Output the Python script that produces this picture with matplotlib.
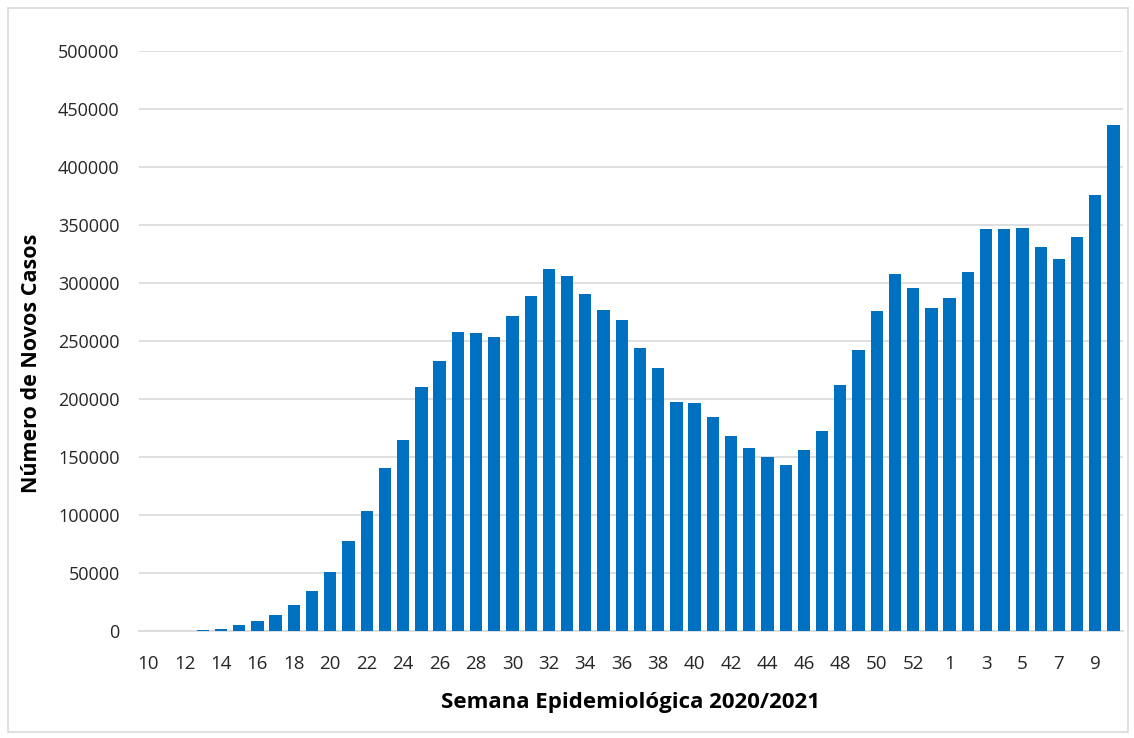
import matplotlib.pyplot as plt
from matplotlib.patches import Rectangle

# ── Data (weekly new cases) ─────────────────────────────────────────────────
weeks = list(range(10, 54)) + list(range(1, 11))
cases = [
    20, 150, 400, 1000, 2000, 4900, 9000, 13400, 22100, 34600,      # 10-19
    51200, 77600, 103400, 140500, 164700, 210300, 232500, 257700, 257200, 253200,  # 20-29
    271800, 289000, 312300, 306300, 290200, 276400, 268400, 244300, 227000, 197800,  # 30-39
    196900, 184600, 168500, 157600, 150400, 142700, 156000, 172300, 212100, 242400,  # 40-49
    275800, 307600, 295900, 278700,                                   # 50-53
    287300, 309200, 346200, 346500, 347500, 330900, 320400, 339800, 376100, 436300,  # 1-10 (2021)
]
yticks = list(range(0, 500001, 50000))

BAR_COLOR = "#0070C0"
GRID_COLOR = "#D9D9D9"

plt.rcParams["font.family"] = ["Open Sans", "DejaVu Sans"]

fig = plt.figure(figsize=(11.34, 7.38), dpi=100)
ax = fig.add_axes([0.1226, 0.145, 0.8674, 0.786])

x = list(range(len(weeks)))
ax.bar(x, cases, width=0.675, color=BAR_COLOR, zorder=3)

ax.set_xlim(-0.5, len(weeks) - 0.5)
ax.set_ylim(0, 500000)
ax.set_yticks(yticks)
ax.set_yticklabels([str(v) for v in yticks], fontsize=13, color="#262626")
ax.set_xticks(x[::2])
ax.set_xticklabels([str(w) for w in weeks[::2]], fontsize=13.5, color="#262626")
ax.tick_params(axis="both", length=0)
ax.tick_params(axis="y", pad=14)
ax.tick_params(axis="x", pad=17)

ax.grid(axis="y", color=GRID_COLOR, linewidth=1.2, zorder=0)
for s in ["top", "right", "left"]:
    ax.spines[s].set_visible(False)
ax.spines["bottom"].set_color(GRID_COLOR)
ax.spines["bottom"].set_linewidth(1.2)

ax.set_ylabel("Número de Novos Casos", fontsize=15.5, fontweight="bold")
ax.yaxis.set_label_coords(-0.099, 0.462)
ax.set_xlabel("Semana Epidemiológica 2020/2021", fontsize=16, fontweight="bold", labelpad=14)

# outer chart border
fig.patches.append(Rectangle((0.007, 0.008), 0.988, 0.981, transform=fig.transFigure,
                             fill=False, edgecolor=GRID_COLOR, linewidth=1.2))

plt.savefig("out.png", dpi=100)
plt.close()
